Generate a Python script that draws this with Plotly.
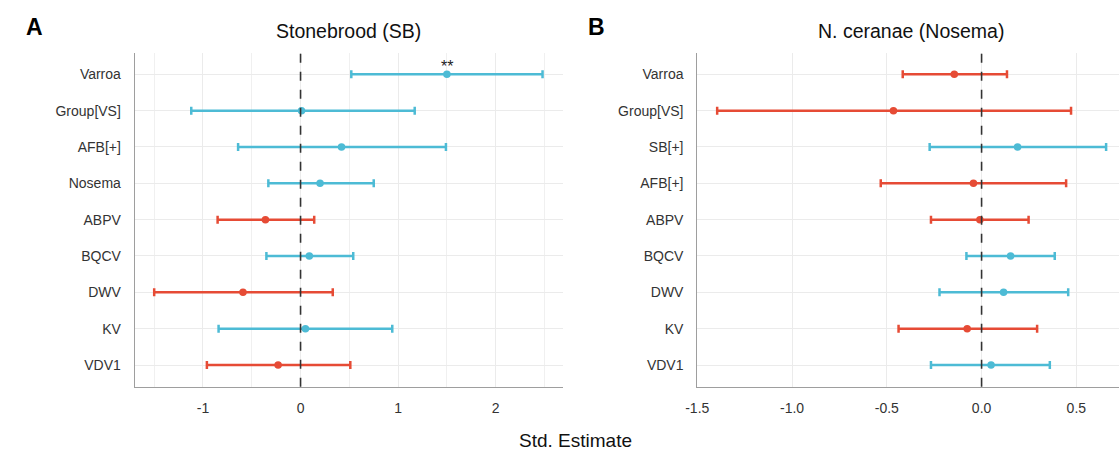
import plotly.graph_objects as go

# Panel A: Stonebrood (SB)
terms_a = ["Varroa", "Group[VS]", "AFB[+]", "Nosema", "ABPV", "BQCV", "DWV", "KV", "VDV1"]
est_a = [1.50, 0.01, 0.42, 0.20, -0.36, 0.09, -0.59, 0.05, -0.23]
lo_a = [0.52, -1.12, -0.64, -0.33, -0.85, -0.35, -1.50, -0.84, -0.96]
hi_a = [2.48, 1.17, 1.49, 0.75, 0.14, 0.54, 0.33, 0.94, 0.51]
sig_a = ["**", "", "", "", "", "", "", "", ""]

# Panel B: N. ceranae (Nosema)
terms_b = ["Varroa", "Group[VS]", "SB[+]", "AFB[+]", "ABPV", "BQCV", "DWV", "KV", "VDV1"]
est_b = [-0.144, -0.465, 0.190, -0.043, -0.009, 0.153, 0.116, -0.076, 0.050]
lo_b = [-0.416, -1.395, -0.274, -0.532, -0.267, -0.080, -0.222, -0.438, -0.267]
hi_b = [0.134, 0.472, 0.657, 0.446, 0.248, 0.386, 0.457, 0.293, 0.360]

ticks_a = [-1, 0, 1, 2]
ticks_b = [-1.5, -1.0, -0.5, 0.0, 0.5]
tick_text_b = ["-1.5", "-1.0", "-0.5", "0.0", "0.5"]

BLUE = "#4DBBD5"
RED = "#E64B35"
FONT = "Liberation Sans, Arial, sans-serif"

fig = go.Figure()


def add_panel(terms, est, lo, hi, xa, ya):
    for positive, color in [(True, BLUE), (False, RED)]:
        idx = [i for i, e in enumerate(est) if (e >= 0) == positive]
        fig.add_trace(go.Scatter(
            x=[est[i] for i in idx],
            y=[terms[i] for i in idx],
            mode="markers",
            marker=dict(color=color, size=7.5),
            error_x=dict(
                type="data", symmetric=False,
                array=[hi[i] - est[i] for i in idx],
                arrayminus=[est[i] - lo[i] for i in idx],
                color=color, thickness=2.5, width=4,
            ),
            xaxis=xa, yaxis=ya, showlegend=False, hoverinfo="x+y",
        ))


add_panel(terms_a, est_a, lo_a, hi_a, "x", "y")
add_panel(terms_b, est_b, lo_b, hi_b, "x2", "y2")

ydom = [1 - 386.8 / 455, 1 - 52.5 / 455]
xdom_a = [124 / 1119, 557 / 1119]
xdom_b = [692.7 / 1119, 1.0]

common_x = dict(
    showgrid=True, gridcolor="#EBEBEB", gridwidth=1,
    zeroline=False, showline=True, linecolor="#9E9E9E", linewidth=1,
    ticks="", ticklabelstandoff=8,
    tickfont=dict(family=FONT, size=14, color="#333333"),
    minor=dict(showgrid=True, gridcolor="#F0F0F0", gridwidth=1, dtick=0.5, ticks=""),
)
common_y = dict(
    type="category", showgrid=True, gridcolor="#EBEBEB", gridwidth=1,
    zeroline=False, showline=True, linecolor="#9E9E9E", linewidth=1,
    ticks="", ticklabelstandoff=10, range=[8.6, -0.6],
    tickfont=dict(family=FONT, size=14, color="#333333"),
)

fig.update_layout(
    width=1119, height=455,
    margin=dict(l=0, r=0, t=0, b=0),
    paper_bgcolor="white", plot_bgcolor="white",
    font=dict(family=FONT, color="#222222"),
    xaxis=dict(domain=xdom_a, range=[-1.70, 2.69], tickvals=ticks_a,
               ticktext=[str(t) for t in ticks_a], anchor="y", **common_x),
    yaxis=dict(domain=ydom, anchor="x", categoryorder="array",
               categoryarray=terms_a, **common_y),
    xaxis2=dict(domain=xdom_b, range=[-1.50, 0.725], tickvals=ticks_b,
                ticktext=tick_text_b, anchor="y2", **common_x),
    yaxis2=dict(domain=ydom, anchor="x2", categoryorder="array",
                categoryarray=terms_b, **common_y),
)

# zero reference lines
for xr, yr in [("x", "y domain"), ("x2", "y2 domain")]:
    fig.add_shape(type="line", xref=xr, yref=yr, x0=0, x1=0, y0=0, y1=1,
                  line=dict(color="#333333", width=1.6, dash="dash"), layer="above")

# significance stars
for t, e, s in zip(terms_a, est_a, sig_a):
    if s:
        fig.add_annotation(x=e, y=t, xref="x", yref="y", text=s, showarrow=False,
                           xanchor="center", yshift=8,
                           font=dict(family=FONT, size=16, color="#222222"))

# panel titles
title_y = 1 - 31 / 455
fig.add_annotation(x=sum(xdom_a) / 2, y=title_y, xref="paper", yref="paper",
                   text="Stonebrood (SB)", showarrow=False,
                   xanchor="center", yanchor="middle",
                   font=dict(family=FONT, size=19.5, color="#111111"))
fig.add_annotation(x=(692.7 + 1125) / 2 / 1119, y=title_y, xref="paper", yref="paper",
                   text="N. ceranae (Nosema)", showarrow=False,
                   xanchor="center", yanchor="middle",
                   font=dict(family=FONT, size=19.5, color="#111111"))

# panel letters
fig.add_annotation(x=12 / 1119, y=1 - 27 / 455, xref="paper", yref="paper", text="<b>A</b>",
                   showarrow=False, xanchor="left", yanchor="middle",
                   font=dict(family=FONT, size=23, color="#000000"))
fig.add_annotation(x=580 / 1119, y=1 - 27 / 455, xref="paper", yref="paper", text="<b>B</b>",
                   showarrow=False, xanchor="left", yanchor="middle",
                   font=dict(family=FONT, size=23, color="#000000"))

# shared x-axis title
fig.add_annotation(x=570 / 1119, y=1 - 440 / 455, xref="paper", yref="paper",
                   text="Std. Estimate", showarrow=False,
                   xanchor="center", yanchor="middle",
                   font=dict(family=FONT, size=19, color="#111111"))

fig.write_html("out.html")
